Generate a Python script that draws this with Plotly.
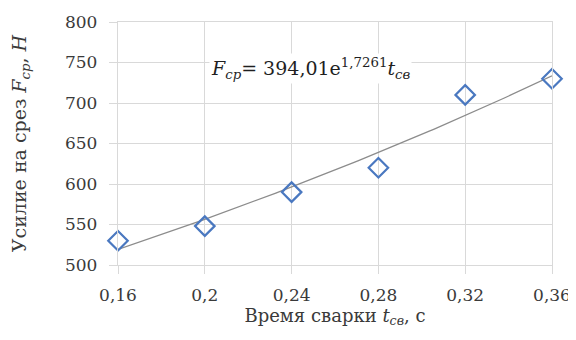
import numpy as np
import plotly.graph_objects as go

# Data
weld_time = [0.16, 0.20, 0.24, 0.28, 0.32, 0.36]
shear_force = [530, 548, 590, 620, 710, 730]
x_tick_vals = [0.16, 0.20, 0.24, 0.28, 0.32, 0.36]
x_tick_text = ["0,16", "0,2", "0,24", "0,28", "0,32", "0,36"]
y_tick_vals = [500, 550, 600, 650, 700, 750, 800]

# Exponential trendline coefficients shown on the chart
trend_a = 394.01
trend_b = 1.7261

t_line = np.linspace(min(weld_time), max(weld_time), 100)
f_line = trend_a * np.exp(trend_b * t_line)

font_family = "DejaVu Serif"
grid = "#d9d9d9"
text_color = "#3a3a3a"

fig = go.Figure()
fig.add_trace(go.Scatter(
    x=t_line, y=f_line, mode="lines",
    line=dict(color="#8c8c8c", width=1.3),
    hoverinfo="skip", showlegend=False,
))
fig.add_trace(go.Scatter(
    x=weld_time, y=shear_force, mode="markers",
    marker=dict(symbol="diamond-open", size=15, color="#4a78c0",
                line=dict(width=2.2, color="#4a78c0")),
    cliponaxis=False, showlegend=False,
))

fig.add_annotation(
    x=0.2485, y=743, xref="x", yref="y", showarrow=False,
    text="<i>F</i><sub><i>ср</i></sub>= 394,01e<sup>1,7261</sup><i>t</i><sub><i>св</i></sub>",
    font=dict(family=font_family, size=19, color="#1f1f1f"),
    bgcolor="white", borderpad=1,
)

# page body adds an 8px offset, so margins are compensated
fig.update_layout(
    width=576, height=340,
    margin=dict(l=110, r=32, t=14, b=83),
    paper_bgcolor="white", plot_bgcolor="white",
    separators=", ",
    font=dict(family=font_family, size=17, color=text_color),
    xaxis=dict(
        range=[0.16, 0.36], tickvals=x_tick_vals, ticktext=x_tick_text,
        showgrid=True, gridcolor=grid, gridwidth=1.3,
        showline=True, linecolor=grid, linewidth=1.3, mirror=True,
        ticks="outside", ticklen=8, tickcolor=grid, tickwidth=1.3,
        zeroline=False, automargin=False, ticklabelstandoff=6,
        tickfont=dict(family=font_family, size=17, color=text_color),
        title=dict(text="Время сварки <i>t</i><sub><i>св</i></sub>, с",
                   font=dict(family=font_family, size=18, color=text_color), standoff=4),
    ),
    yaxis=dict(
        range=[500, 800], tickvals=y_tick_vals,
        showgrid=True, gridcolor=grid, gridwidth=1.3,
        showline=True, linecolor=grid, linewidth=1.3, mirror=True,
        ticks="outside", ticklen=8, tickcolor=grid, tickwidth=1.3,
        zeroline=False, automargin=False, ticklabelstandoff=8,
        tickfont=dict(family=font_family, size=17, color=text_color),
        title=dict(text="Усилие на срез <i>F</i><sub><i>ср</i></sub>, <i>Н</i>",
                   font=dict(family=font_family, size=19, color=text_color), standoff=36),
    ),
)

fig.write_html("out.html")
